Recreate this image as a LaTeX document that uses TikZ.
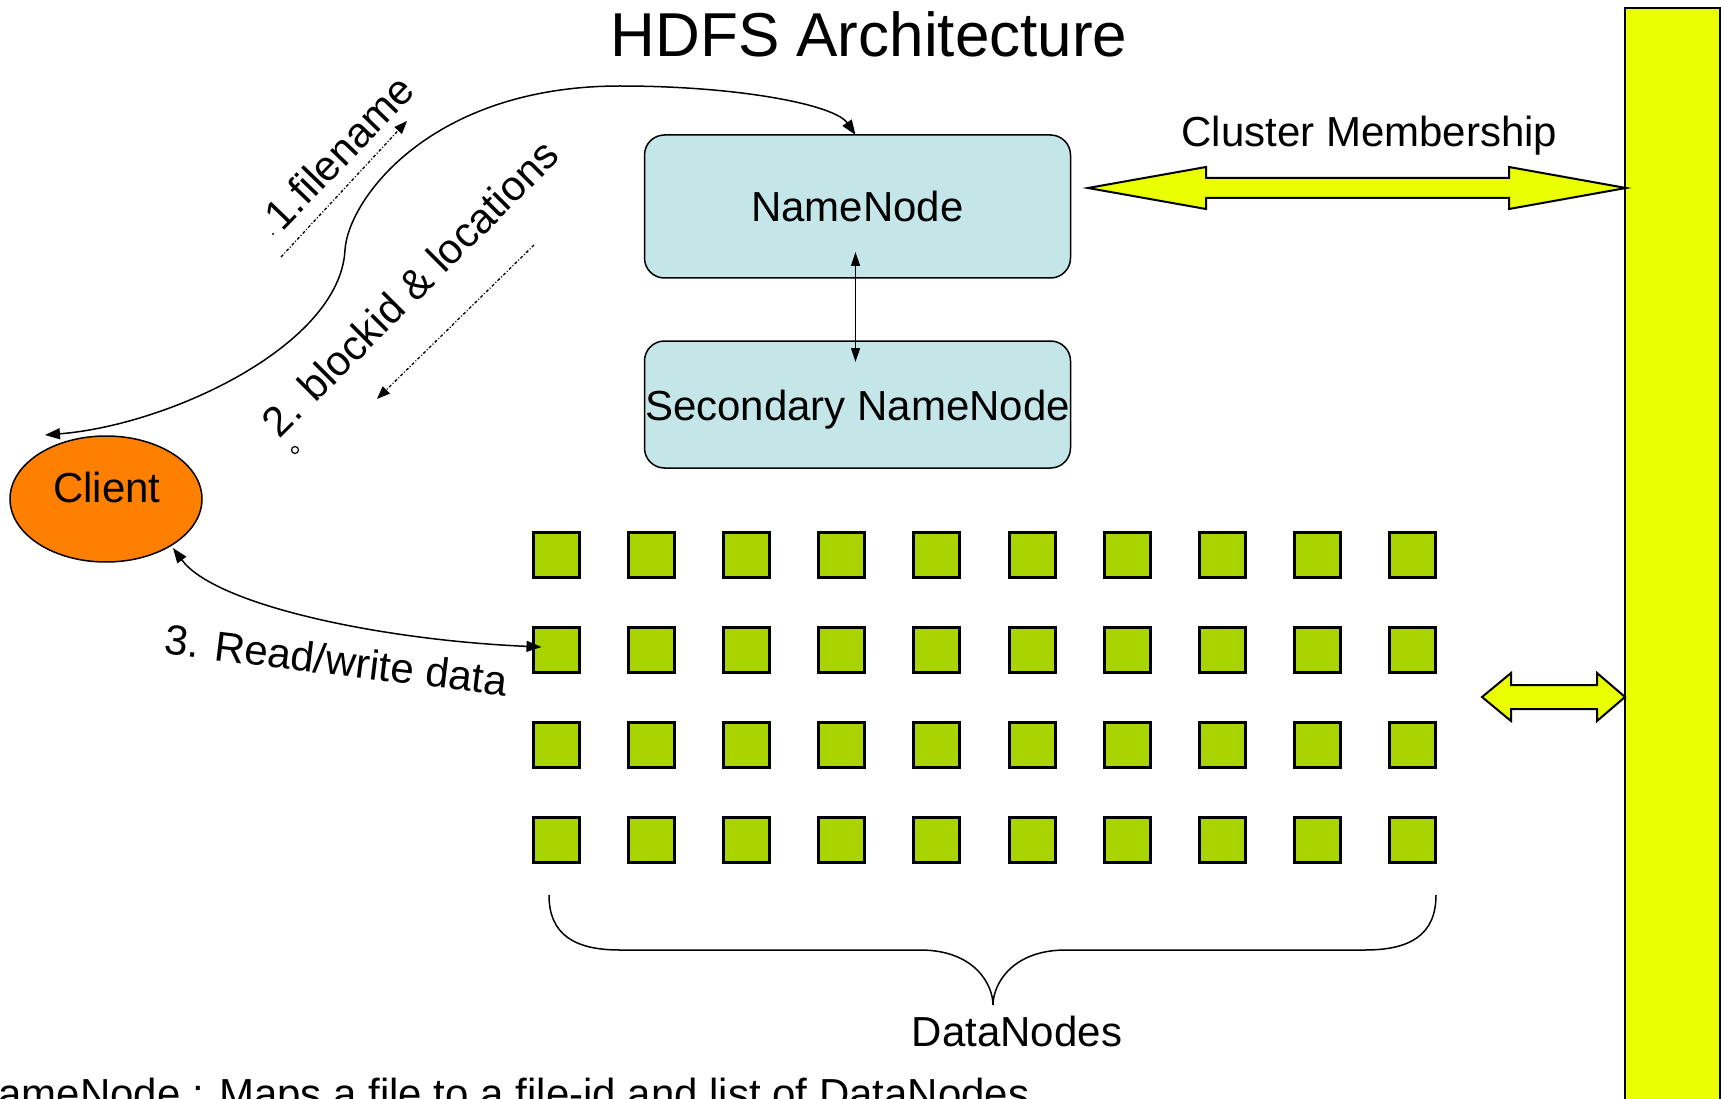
\documentclass[tikz,border=0pt]{standalone}
\usepackage{fontspec}
\setmainfont{Liberation Sans}
\usetikzlibrary{arrows.meta,shapes.geometric,calc}

\definecolor{boxblue}{RGB}{196,230,232}
\definecolor{clientorange}{RGB}{255,127,0}
\definecolor{dngreen}{RGB}{170,212,0}
\definecolor{busyellow}{RGB}{234,255,0}

\tikzset{
  bigtip/.tip={Triangle[length=15pt,width=11pt]},
  smtip/.tip={Triangle[length=14pt,width=9pt]},
  dottip/.tip={Triangle[length=13pt,width=10pt]},
}

\begin{document}
\begin{tikzpicture}[x=1pt,y=-1pt,
  every node/.style={font=\fontsize{42}{48}\selectfont, inner sep=0pt, outer sep=0pt},
  namebox/.style={draw=black, line width=1.5pt, fill=boxblue, rounded corners=20pt, minimum width=426pt},
  dnode/.style={draw=black, line width=3pt, fill=dngreen, minimum width=46pt, minimum height=45pt},
  link/.style={line width=1.5pt, bigtip-bigtip},
  dotlink/.style={line width=1.3pt, dash pattern=on 3pt off 2pt on 1pt off 2pt, -dottip},
  fatarrow/.style={draw=black, line width=2pt, fill=busyellow, line join=miter},
  brace/.style={draw=black, line width=1.5pt},
]
% page frame
\useasboundingbox (0,0) rectangle (1721,1099);
\clip (0,0) rectangle (1721,1099);
\fill[white] (0,0) rectangle (1721,1099);

% title
\node[font=\fontsize{62}{70}\selectfont, anchor=base] (title) at (869,57) {HDFS Architecture};

% cluster membership bus
\node[draw=black, line width=2pt, fill=busyellow, minimum width=95pt, minimum height=1120pt, anchor=north west] (bus) at (1625,8) {};

% name nodes
\node[namebox, minimum height=143pt] (nn) at (857.5,206.5) {};
\node[anchor=base] (nnlabel) at (857.5,222) {NameNode};
\node[namebox, minimum height=127pt] (snn) at (857.5,404.5) {};
\node[anchor=base] (snnlabel) at (857.5,420) {Secondary NameNode};
\draw[line width=1.2pt, smtip-smtip] ([xshift=-2pt,yshift=26pt]nn.south) -- ([xshift=-2pt,yshift=-21pt]snn.north);

% client
\node[ellipse, draw=black, line width=1.5pt, fill=clientorange, minimum width=192pt, minimum height=126pt] (client) at (106,499) {};
\node[anchor=base] (clientlabel) at (107,502) {Client};

% data nodes
\foreach \r in {1,...,4}
  \foreach \c in {1,...,10}
    \node[dnode] (dn-\r-\c) at ({556.5+95.1*(\c-1)}, {555+95*(\r-1)}) {};

% client <-> namenode exchange
\draw[link] ([xshift=-61pt,yshift=64pt]client.center)
  .. controls (170,425) and (340,345) .. (345,250)
  .. controls (348,200) and (430,86) .. (620,86)
  .. controls (740,86) and (835,105) .. ([xshift=-2pt]nn.north);

\coordinate (f1) at (281,257);
\coordinate (f2) at (407,121);
\draw[dotlink] (f1) -- (f2);
\node[rotate=46] (fname) at (339,152) {1.filename};
\fill (273,234) circle (1.2pt);

\coordinate (b1) at (534,245);
\coordinate (b2) at (377,399);
\draw[dotlink] (b1) -- (b2);
\node[rotate=45] (blocks) at (410,288) {2. blockid \& locations};
\draw[line width=1.2pt, fill=white] (295,450) circle (3.5pt);

% client <-> datanode traffic
\draw[link] ([xshift=67pt,yshift=-49pt]client.center)
  .. controls (215,605) and (380,640) .. ([xshift=8pt,yshift=3pt]dn-2-1.west);
\node[rotate=-7] (rw) at (336,660) {3. Read/write data};

% cluster membership arrows
\node[anchor=base] (cmlabel) at (1369.5,147) {Cluster Membership};
\draw[fatarrow] (1088,188) -- (1206,167) -- (1206,178) -- (1509,178) -- (1509,167)
  -- (1626,188) -- (1509,209) -- (1509,198) -- (1206,198) -- (1206,209) -- cycle;
\draw[fatarrow] (1482,697) -- (1511,673) -- (1511,685) -- (1597,685) -- (1597,673)
  -- (1625,697) -- (1597,721) -- (1597,709) -- (1511,709) -- (1511,721) -- cycle;

% datanodes brace
\draw[brace] (549,895) .. controls (549,935) and (575,950) .. (620,950) -- (920,950)
  .. controls (975,950) and (993,985) .. (993,1005);
\draw[brace] (1436,895) .. controls (1436,935) and (1410,950) .. (1365,950) -- (1066,950)
  .. controls (1011,950) and (993,985) .. (993,1005);
\node[anchor=base] (dnlabel) at (1017,1046) {DataNodes};

% footnote
\node[anchor=base west] (legend) at (-32,1108) {NameNode : Maps a file to a file-id and list of DataNodes};
\end{tikzpicture}
\end{document}
